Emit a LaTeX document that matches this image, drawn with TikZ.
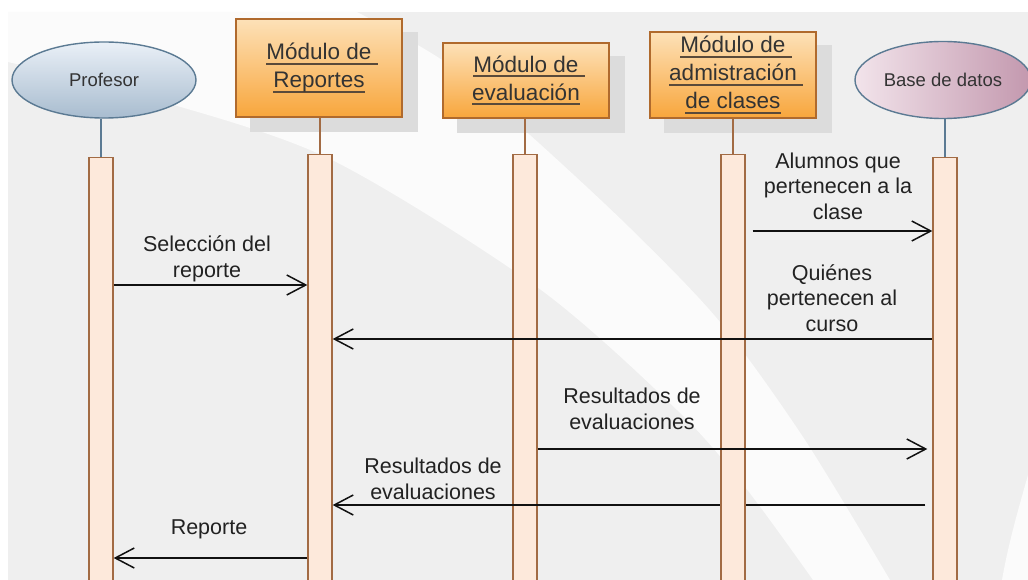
\documentclass[tikz,border=0pt]{standalone}
\usepackage{fontspec}
\setmainfont{Liberation Sans}
\usetikzlibrary{arrows.meta,shapes.geometric}
\definecolor{bgc}{HTML}{EFEFEF}
\definecolor{bandc}{HTML}{FBFBFB}
\definecolor{shadowc}{HTML}{DCDCDC}
\definecolor{barc}{HTML}{A26B44}
\definecolor{barf}{HTML}{FDE9DB}
\definecolor{modc}{HTML}{B06A2D}
\definecolor{modtop}{HTML}{FDE1B8}
\definecolor{modbot}{HTML}{F8A63C}
\definecolor{modtext}{HTML}{333333}
\definecolor{ulc}{HTML}{5A4A3A}
\definecolor{actc}{HTML}{5B7A93}
\definecolor{proftop}{HTML}{EAF0F7}
\definecolor{profbot}{HTML}{A8BCCF}
\definecolor{dbleft}{HTML}{F2E4EB}
\definecolor{dbright}{HTML}{C398AE}
\definecolor{acttext}{HTML}{333333}
\definecolor{lblc}{HTML}{222222}
\definecolor{msgc}{HTML}{111111}
\newcommand{\myul}[1]{\setbox0=\hbox{#1}\rlap{\color{ulc}\rule[-5pt]{\wd0}{1.8pt}}#1}
\newcommand{\myuls}[1]{\setbox0=\hbox{#1\ }\rlap{\color{ulc}\rule[-5pt]{\wd0}{1.8pt}}#1}
\pgfdeclarelayer{bglayer}
\pgfdeclarelayer{shadowlayer}
\pgfsetlayers{bglayer,shadowlayer,main}
\tikzset{
 barbox/.style={draw=barc, fill=barf, line width=1.3pt, minimum width=24pt, minimum height=440pt, anchor=north, inner sep=0pt},
 modbox/.style={draw=modc, line width=1.3pt, top color=modtop, bottom color=modbot, align=center, inner sep=0pt, text=modtext, font=\fontsize{22.5}{28}\selectfont, minimum width=166pt},
 actor/.style={ellipse, draw=actc, line width=1.4pt, inner sep=0pt, font=\fontsize{18.5}{22}\selectfont, text=acttext},
 msg/.style={line width=1.5pt, draw=msgc, -{Straight Barb[length=19pt,width=20pt]}},
 lbl/.style={align=center, font=\fontsize{21.5}{25.5}\selectfont, text=lblc, inner sep=0pt},
 stubm/.style={draw=barc, line width=1.3pt},
 stuba/.style={draw=actc, line width=1.3pt},
 shadowbox/.style={fill=shadowc},
}
\begin{document}
\begin{tikzpicture}[x=1pt,y=-1pt]
\useasboundingbox (0,0) rectangle (1028,580);
\begin{pgfonlayer}{bglayer}
\fill[white] (0,0) rectangle (1028,580);
\fill[bgc] (8,12) rectangle (1028,580);
\fill[bandc] (8,12) -- (357,12)
  -- plot[smooth] coordinates {(357,12) (445,62) (530,135) (630,228) (720,322) (805,440) (890,580)}
  -- (813,580)
  -- plot[smooth] coordinates {(813,580) (745,487) (677,410) (537,287) (330,159) (150,98) (8,62)}
  -- cycle;
\fill[bandc] (1028,475) .. controls (1018,510) and (1008,545) .. (1002,580) -- (1028,580) -- cycle;
\end{pgfonlayer}

% actors and modules
\node[actor, top color=proftop, bottom color=profbot, minimum width=184pt, minimum height=76pt] (prof) at (104,80) {Profesor};
\node[actor, left color=dbleft, right color=dbright, minimum width=176pt, minimum height=77pt] (db) at (943,80) {Base de datos};
\node[modbox, minimum height=98pt] (rep) at (319,68) {\myuls{Módulo de}\\\myul{Reportes}};
\node[modbox, minimum height=75pt] (eval) at (526,80.5) {\myuls{Módulo de}\\\myul{evaluación}};
\node[modbox, minimum height=86pt] (adm) at (733,75) {\myuls{Módulo de}\\\myuls{admistración}\\\myul{de clases}};

\begin{pgfonlayer}{shadowlayer}
\foreach \n in {rep,eval,adm}{
  \fill[shadowbox] ([shift={(15,14)}]\n.south west) rectangle ([shift={(15,14)}]\n.north east);
}
\end{pgfonlayer}

% lifeline bars (left part)
\node[barbox] (profbar) at (101,157) {};
\node[barbox] (repbar) at (320,154) {};
\node[barbox] (evalbar) at (525,154) {};
\draw[stuba] (profbar.north |- prof.south) -- (profbar.north);
\draw[stubm] (repbar.north |- rep.south) -- (repbar.north);
\draw[stubm] (evalbar.north |- eval.south) -- (evalbar.north);

% message drawn behind the administration bar
\node[barbox, draw=none, fill=none] (dbbarpos) at (945,157) {};
\draw[msg, shorten <=7pt] (dbbarpos.west |- 0,505) -- (repbar.east |- 0,505);

% lifeline bars (right part)
\node[barbox] (admbar) at (733,154) {};
\node[barbox] (dbbar) at (945,157) {};
\draw[stubm] (admbar.north |- adm.south) -- (admbar.north);
\draw[stuba] (dbbar.north |- db.south) -- (dbbar.north);

% messages
\draw[msg] (profbar.east |- 0,285) -- (repbar.west |- 0,285);
\draw[msg, shorten <=7pt] (admbar.east |- 0,231) -- (dbbar.west |- 0,231);
\draw[msg] (dbbar.west |- 0,339) -- (repbar.east |- 0,339);
\draw[msg, shorten >=5pt] (evalbar.east |- 0,449) -- (dbbar.west |- 0,449);
\draw[msg] (repbar.west |- 0,558) -- (profbar.east |- 0,558);

% labels
\node[lbl] (l1) at (207,259) {Selección del\\reporte};
\node[lbl] (l2) at (838,186) {Alumnos que\\pertenecen a la\\clase};
\node[lbl] (l3) at (832,298) {Quiénes\\pertenecen al\\curso};
\node[lbl] (l4) at (632,409) {Resultados de\\evaluaciones};
\node[lbl] (l5) at (433,479) {Resultados de\\evaluaciones};
\node[lbl] (l6) at (209,529) {Reporte};
\end{tikzpicture}
\end{document}
